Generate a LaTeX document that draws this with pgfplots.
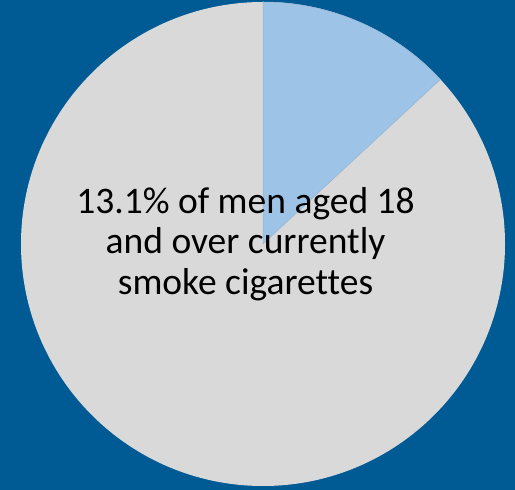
\documentclass[border=0pt]{standalone}
\usepackage{pgfplots}
\usepackage{pgfplotstable}
\pgfplotsset{compat=1.18}
\usepackage{fontspec}
\setmainfont{Carlito}[Ligatures=NoCommon]
\definecolor{bgblue}{RGB}{0,90,148}
\definecolor{slblue}{RGB}{157,195,230}
\definecolor{slgray}{RGB}{217,217,217}
\pgfplotstableread{
label value
smokers 13.1
others 86.9
}\piedata
\pgfplotstablegetelem{0}{value}\of\piedata
\pgfmathsetmacro\angA{90-3.6*\pgfplotsretval}
\begin{document}
\begin{tikzpicture}
\begin{axis}[
  width=515pt, height=490pt, scale only axis,
  xmin=0, xmax=515, ymin=0, ymax=490,
  hide axis, clip=true,
]
\fill[bgblue] (axis cs:0,0) rectangle (axis cs:515,490);
\fill[slgray] (axis cs:263,246) circle[radius=242pt];
\fill[slblue, draw=slblue!80!gray, line width=0.5pt] (axis cs:263,246) -- ++(90:242pt) arc[start angle=90, end angle=\angA, radius=242pt] -- cycle;
\node[align=center, font=\fontsize{37.5}{40.5}\selectfont, text=black] at (axis cs:245.5,246) {13.1\% of men aged 18\\and over currently\\smoke cigarettes};
\end{axis}
\end{tikzpicture}
\end{document}
